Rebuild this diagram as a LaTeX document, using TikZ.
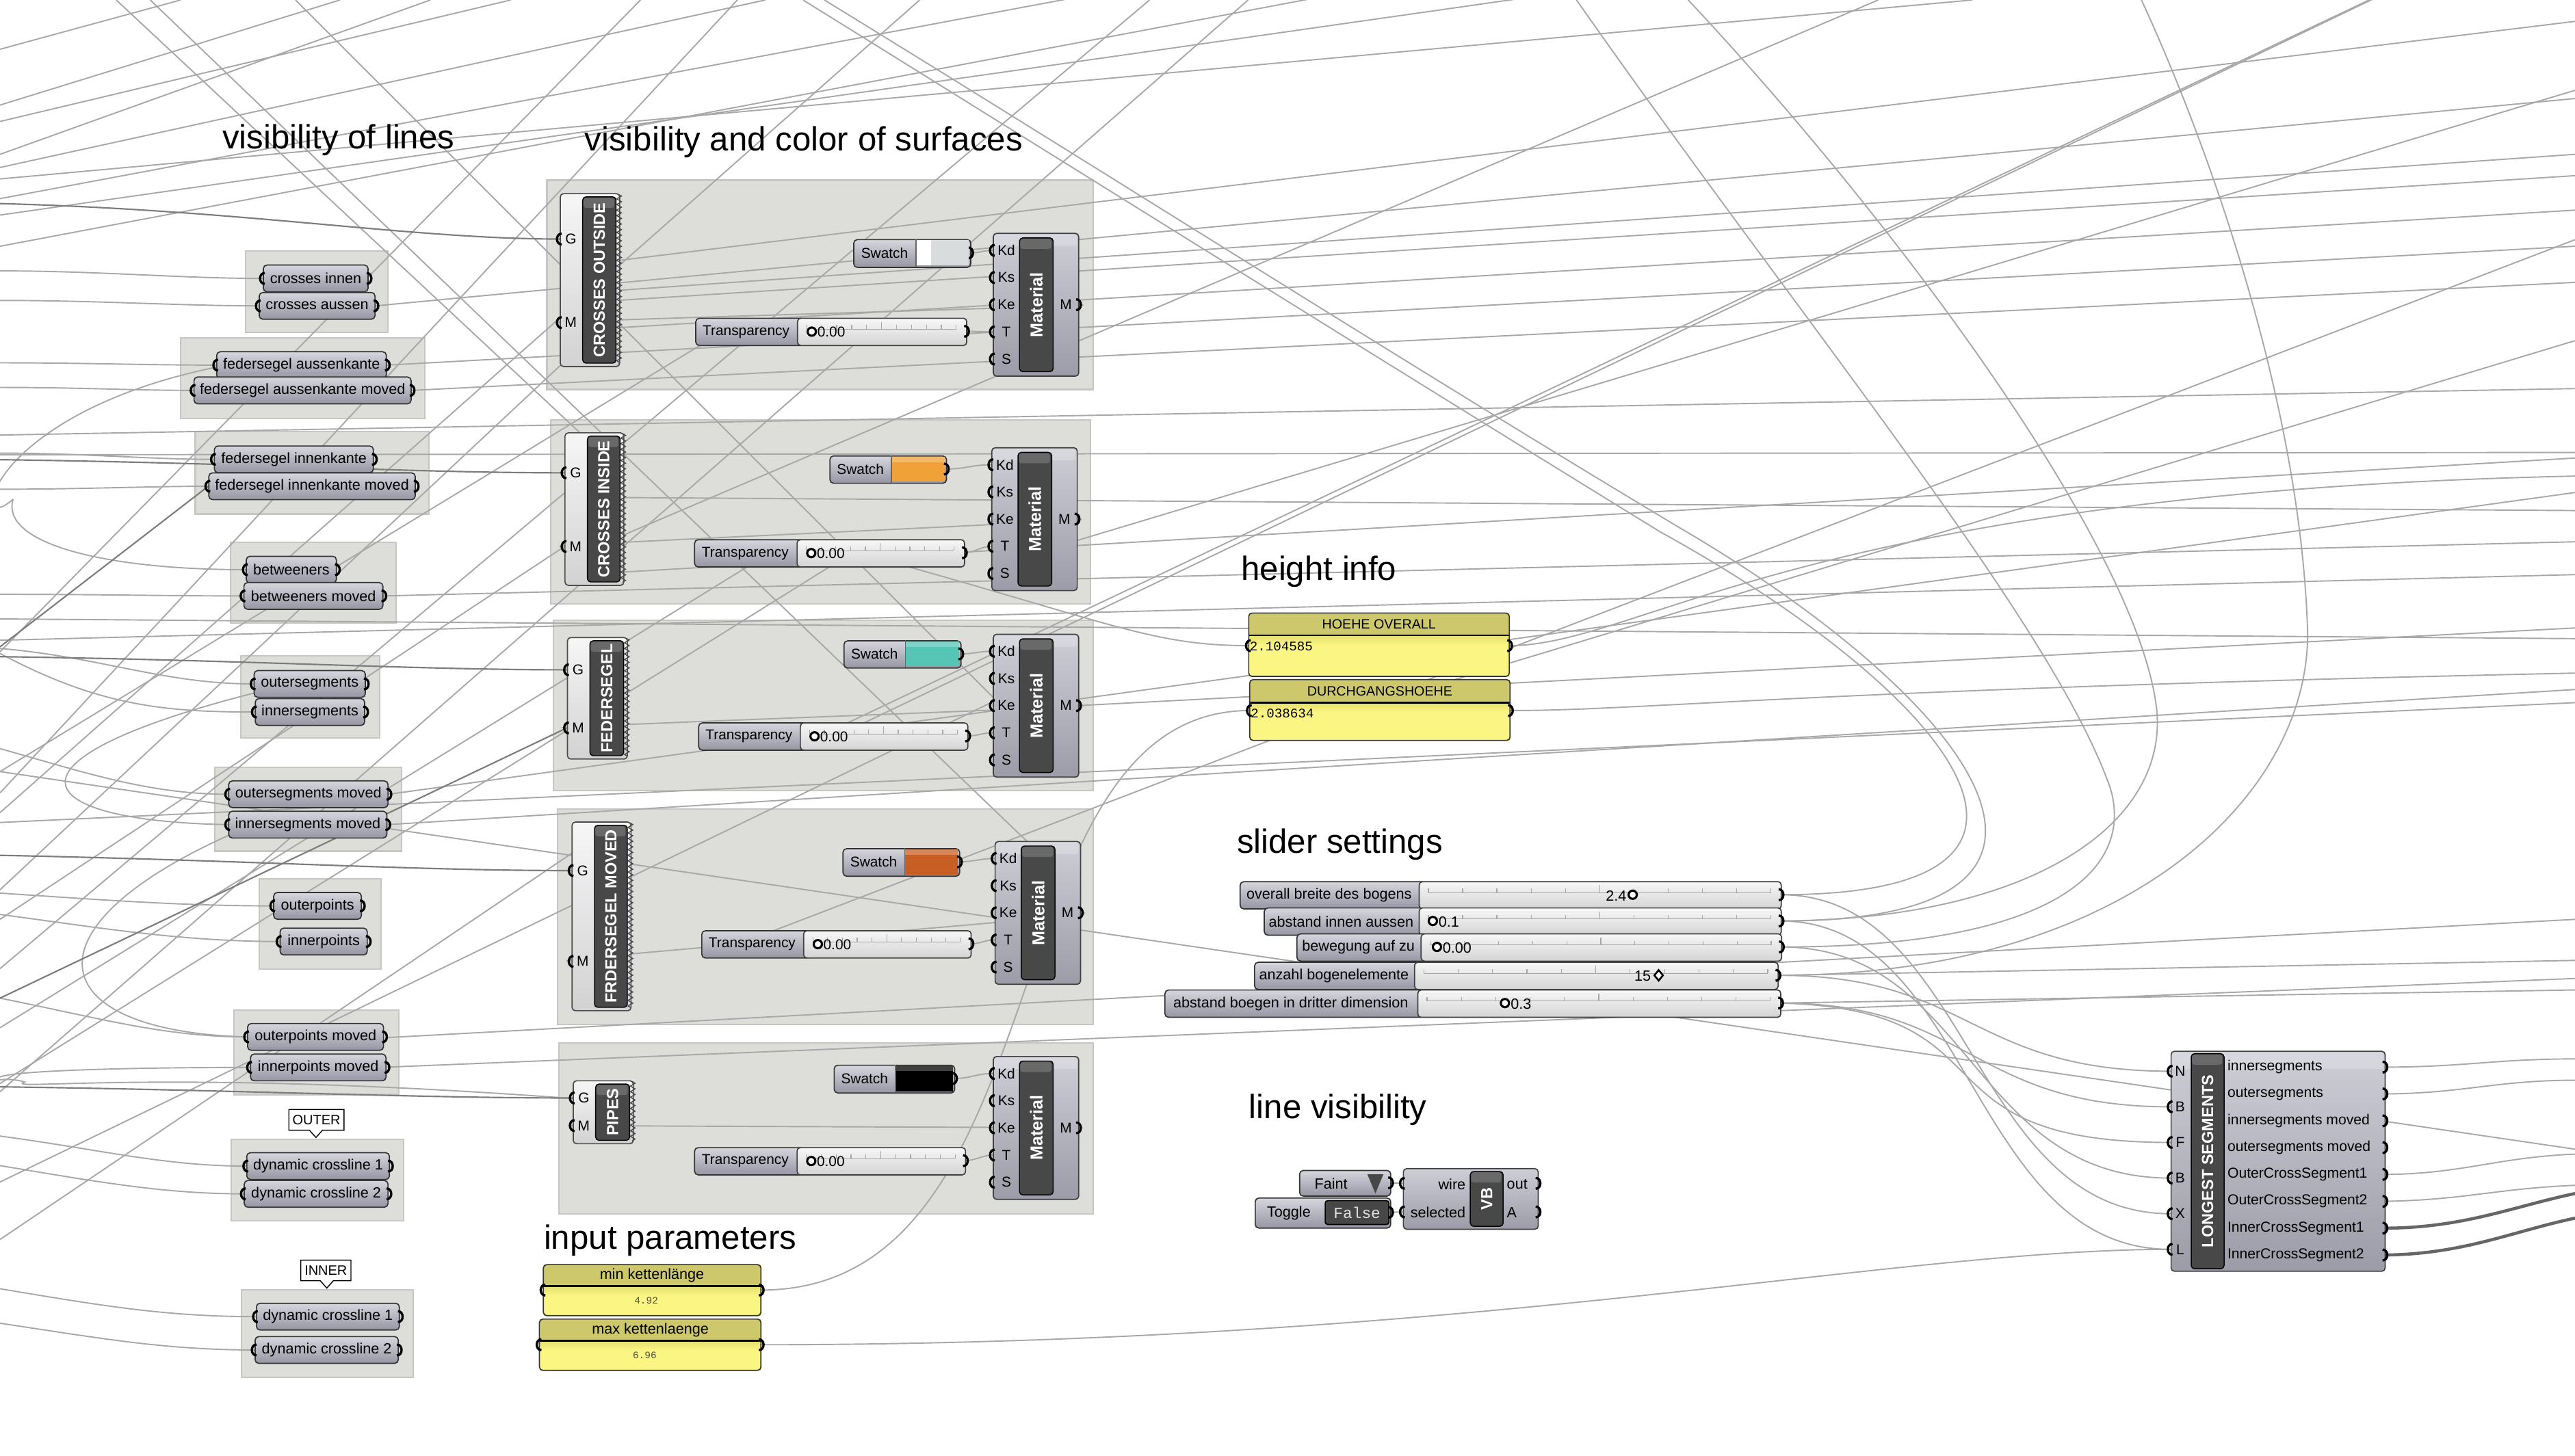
\documentclass[tikz,border=0pt]{standalone}
\usepackage{fontspec}
\setmainfont{Liberation Sans}
\newfontfamily\monof{Liberation Mono}
\usetikzlibrary{decorations.pathmorphing}

\definecolor{grpfill}{RGB}{221,221,217}
\definecolor{grpdraw}{RGB}{198,198,194}
\definecolor{ptop}{RGB}{214,214,222}
\definecolor{pbot}{RGB}{150,150,164}
\definecolor{cbT}{RGB}{206,206,215}
\definecolor{cbB}{RGB}{156,156,168}
\definecolor{lbT}{RGB}{246,246,246}
\definecolor{lbB}{RGB}{210,210,210}
\definecolor{sbT}{RGB}{247,247,247}
\definecolor{sbB}{RGB}{212,212,212}
\definecolor{cdark}{RGB}{72,72,72}
\definecolor{phead}{RGB}{205,200,108}
\definecolor{pbody}{RGB}{251,246,131}
\definecolor{pshade}{RGB}{228,222,112}
\definecolor{wirec}{RGB}{168,168,168}
\definecolor{wired}{RGB}{125,125,125}
\definecolor{swOrange}{RGB}{240,162,56}
\definecolor{swTeal}{RGB}{85,198,181}
\definecolor{swRust}{RGB}{200,94,36}
\definecolor{swLight}{RGB}{216,220,220}

\pgfdeclarelayer{back}
\pgfdeclarelayer{grps}
\pgfdeclarelayer{wires}
\pgfsetlayers{back,grps,wires,main}

\tikzset{
  grp/.style={fill=grpfill, draw=grpdraw, line width=0.9pt, inner sep=0pt, anchor=north west},
  param/.style={draw=black!80, line width=0.7pt, rounded corners=2.2pt, top color=ptop, bottom color=pbot, minimum height=16.3pt, inner sep=0pt, anchor=west, font=\fontsize{9}{10}\selectfont},
  port/.style={line width=1.4pt, black},
  w/.style={draw=wirec, line width=0.8pt},
  wd/.style={draw=wired, line width=0.9pt},
  wt/.style={draw=black!60, line width=1.9pt},
  ttl/.style={font=\fontsize{20.5}{22}\selectfont, anchor=base west, inner sep=0pt},
  lbl/.style={font=\fontsize{9}{10}\selectfont, inner sep=0pt},
  slbl/.style={font=\fontsize{8.7}{10}\selectfont, inner sep=0pt},
  cbody/.style={draw=black!75, line width=0.7pt, rounded corners=2pt, top color=cbT, bottom color=cbB, inner sep=0pt, anchor=north west},
  lbody/.style={draw=black!70, line width=0.7pt, rounded corners=2pt, top color=lbT, bottom color=lbB, inner sep=0pt, anchor=north west},
  sbody/.style={draw=black!75, line width=0.7pt, rounded corners=2pt, top color=sbT, bottom color=sbB, inner sep=0pt, anchor=north west},
  cbar/.style={draw=black, line width=0.6pt, rounded corners=2pt, fill=cdark, inner sep=0pt, anchor=north west},
  bartext/.style={rotate=90, text=white, font=\bfseries\fontsize{9.8}{10}\selectfont, inner sep=0pt},
  zz/.style={draw=black!70, line width=0.6pt, decorate, decoration={zigzag, segment length=3.4pt, amplitude=1.4pt}},
  trk/.style={draw=black!35, line width=0.5pt},
  knob/.style={circle, draw=black, line width=1.3pt, fill=white, inner sep=0pt, minimum size=5pt},
  pnl/.style={fill=pbody, inner sep=0pt, anchor=north west},
  bubble/.style={fill=white, draw=black, line width=0.6pt},
}

\newcommand\lport[1]{\draw[port] ([xshift=1.2pt,yshift=3.3pt]#1) .. controls ([xshift=-2.6pt,yshift=3.3pt]#1) and ([xshift=-2.6pt,yshift=-3.3pt]#1) .. ([xshift=1.2pt,yshift=-3.3pt]#1);}
\newcommand\rport[1]{\draw[port] ([xshift=-1.2pt,yshift=3.3pt]#1) .. controls ([xshift=2.6pt,yshift=3.3pt]#1) and ([xshift=2.6pt,yshift=-3.3pt]#1) .. ([xshift=-1.2pt,yshift=-3.3pt]#1);}

% parameter capsule: name, x1, x2, yc, text
\newcommand\prm[5]{%
  \node[param, minimum width={#3-#2}] (#1) at (#2,#4) {#5};
  \lport{#1.west}\rport{#1.east}}

% group box: name, x1, y1, x2, y2
\newcommand\grp[5]{\begin{pgfonlayer}{grps}\node[grp, minimum width={#4-#2}, minimum height={#5-#3}] (#1) at (#2,#3) {};\end{pgfonlayer}}

% dark bar with highlight
\newcommand\darkbar[5]{% name, x, y, w, h
  \node[cbar, minimum width={#4}, minimum height={#5}] (#1) at (#2,#3) {};
  \fill[white, opacity=0.18, rounded corners=1.5pt] ({#2+0.8},{#3+0.8}) rectangle ({#2+#4-0.8},{#3+7});}

% material: name, x, y
\newcommand\material[3]{%
  \node[cbody, minimum width=52pt, minimum height=87pt] (#1) at (#2,#3) {};
  \fill[white, opacity=0.22, rounded corners=1.5pt] ({#2+0.8},{#3+0.8}) rectangle ({#2+51.2},{#3+8});
  \darkbar{#1bar}{#2+16}{#3+2.8}{20.5}{81.5}
  \node[bartext, font=\bfseries\fontsize{10.5}{11}\selectfont] at (#1bar.center) {Material};
  \foreach \lab [count=\i from 0] in {Kd,Ks,Ke,T,S}{
    \coordinate (#1p\i) at (#2,{#3+10.7+16.55*\i});
    \node[slbl] at ({#2+8.3},{#3+10.7+16.55*\i}) {\lab};
    \lport{#1p\i}}
  \coordinate (#1M) at ({#2+52},{#3+43.8});
  \node[slbl] at ({#2+44.5},{#3+43.8}) {M};
  \rport{#1M}}

% custom preview: name, x1, x2, y1, y2, gy, my, title
\newcommand\cprev[8]{%
  \node[lbody, minimum width={#3-#2-1.5}, minimum height={#5-#4}] (#1) at (#2,#4) {};
  \draw[zz] ({#3-1.5},{#4+1}) -- ({#3-1.5},{#5-1});
  \darkbar{#1bar}{#2+13.7}{#4+2}{#3-#2-17.4}{#5-#4-4}
  \node[bartext] at (#1bar.center) {#8};
  \coordinate (#1G) at (#2,#6);
  \coordinate (#1M) at (#2,#7);
  \node[slbl] at ({#2+6.8},#6) {G};
  \node[slbl] at ({#2+6.8},#7) {M};
  \lport{#1G}\lport{#1M}}

% swatch: name, x1, xc, x2, y1, y2, color
\newcommand\swatch[7]{%
  \node[param, anchor=north west, minimum width={#4-#2}, minimum height={#6-#5}] (#1) at (#2,#5) {};
  \fill[#7] (#3,{#5+0.7}) rectangle ({#4-0.8},{#6-0.7});
  \fill[white, opacity=0.25] (#3,{#5+0.7}) rectangle ({#4-0.8},{#5+4});
  \draw[black!60, line width=0.5pt] (#3,#5) -- (#3,#6);
  \node[slbl] at ({(#2+#3)/2},{(#5+#6)/2}) {Swatch};
  \coordinate (#1o) at (#4,{(#5+#6)/2});
  \rport{#1o}}

% slider: name, x1, xl, x2, ymid, label
\newcommand\slider[6]{%
  \node[param, anchor=north west, minimum width={#3-#2+4}, minimum height=16.6pt] (#1lab) at (#2,{#5-8.3}) {};
  \node[sbody, minimum width={#4-#3}, minimum height=16.6pt] (#1) at (#3,{#5-8.3}) {};
  \node[lbl] at ({(#2+#3)/2},{#5+0.3}) {#6};
  \draw[trk] ({#3+6},{#5-1.2}) -- ({#4-6},{#5-1.2});
  \foreach \k in {0,...,10}{\draw[trk] ({#3+6+\k*(#4-#3-12)/10},{#5-1.2}) -- ++(0,-2.6);}
  \draw[trk] ({#3+6+5*(#4-#3-12)/10},{#5-1.2}) -- ++(0,-4.6);
  \coordinate (#1o) at (#4,#5);
  \rport{#1o}}

% panel: name, x1, x2, y1, yh, y2, title, port y
\newcommand\panel[8]{%
  \node[pnl, minimum width={#3-#2}, minimum height={#6-#4}] (#1) at (#2,#4) {};
  \fill[phead] ({#2+0.4},{#4+0.4}) rectangle ({#3-0.4},#5);
  \shade[top color=pshade, bottom color=pbody] ({#2+0.4},#5) rectangle ({#3-0.4},{#5+6});
  \draw[black, line width=1.1pt] (#2,#5) -- (#3,#5);
  \draw[black!80, line width=0.7pt, rounded corners=2pt] (#2,#4) rectangle (#3,#6);
  \coordinate (#1i) at (#2,#8);
  \coordinate (#1o) at (#3,#8);
  \lport{#1i}\rport{#1o}}

\begin{document}
\begin{tikzpicture}[x=1pt,y=-1pt]
\useasboundingbox (0,0) rectangle (1568,886.5);
\begin{pgfonlayer}{back}
\fill[white] (0,0) rectangle (1568,886.5);
\end{pgfonlayer}

% ---------------- titles
\node[ttl] (t1) at (135.3,90.4) {visibility of lines};
\node[ttl] (t2) at (355.9,92) {visibility and color of surfaces};
\node[ttl] (t3) at (755.6,353.4) {height info};
\node[ttl] (t4) at (753,519.5) {slider settings};
\node[ttl] (t5) at (760.4,681.5) {line visibility};
\node[ttl] (t6) at (331,761) {input parameters};

% ---------------- left groups and parameters
\grp{g1}{149.2}{152.3}{235.9}{202}
\prm{pci}{160}{223.8}{169.6}{crosses innen}
\prm{pca}{157.5}{228}{186.3}{crosses aussen}
\grp{g2}{109.5}{205.2}{258.4}{254.6}
\prm{pfa}{131.6}{234.9}{222.4}{federsegel aussenkante}
\prm{pfam}{117.8}{250}{237.8}{federsegel aussenkante moved}
\grp{g3}{118.5}{262.5}{260.8}{312.6}
\prm{pfi}{130.2}{227}{279.8}{federsegel innenkante}
\prm{pfim}{126.8}{252.5}{296.2}{federsegel innenkante moved}
\grp{g4}{139.9}{329.9}{240.7}{378.9}
\prm{pbt}{149.6}{204.5}{347}{betweeners}
\prm{pbm}{148.2}{232.8}{363}{betweeners moved}
\grp{g5}{146.1}{399}{230.7}{449}
\prm{pos}{154.4}{222.1}{416.6}{outersegments}
\prm{pis}{155.1}{221.7}{433.7}{innersegments}
\grp{g6}{130.2}{467}{244.2}{518}
\prm{posm}{138.9}{235.9}{483.8}{outersegments moved}
\prm{pism}{138.9}{235.2}{502.3}{innersegments moved}
\grp{g7}{157.6}{535}{231.7}{589.8}
\prm{pop}{166.3}{219.7}{551.8}{outerpoints}
\prm{pip}{170.2}{223.3}{573.5}{innerpoints}
\grp{g8}{142}{615}{242.5}{666.3}
\prm{popm}{150.4}{233.2}{631.6}{outerpoints moved}
\prm{pipm}{152.2}{234.7}{650.2}{innerpoints moved}
\grp{g9}{140.3}{693.5}{245.2}{743.3}
\prm{pod1}{149.9}{236.8}{710.3}{dynamic crossline 1}
\prm{pod2}{148.4}{235.9}{727.2}{dynamic crossline 2}
\grp{g10}{146.6}{785.2}{251.1}{838.6}
\prm{pid1}{155.8}{242.8}{802}{dynamic crossline 1}
\prm{pid2}{155}{242.2}{822.3}{dynamic crossline 2}

% bubbles
\draw[bubble] (175.9,675.8) -- (209.5,675.8) -- (209.5,688.4) -- (196.4,688.4) -- (192.4,692.9) -- (188.4,688.4) -- (175.9,688.4) -- cycle;
\node[font=\fontsize{8.3}{9}\selectfont, inner sep=0pt] (bo) at (192.7,682.2) {OUTER};
\draw[bubble] (183.1,767.6) -- (213.7,767.6) -- (213.7,780.1) -- (203,780.1) -- (199,784.6) -- (195,780.1) -- (183.1,780.1) -- cycle;
\node[font=\fontsize{8.3}{9}\selectfont, inner sep=0pt] (bi) at (198.4,774) {INNER};

% ---------------- surface groups
\grp{gA}{332.6}{109.3}{665.3}{236.8}
\grp{gB}{334.8}{255.3}{663.6}{367.5}
\grp{gC}{336.6}{377.4}{665.3}{481}
\grp{gD}{339}{492.3}{665.3}{623.6}
\grp{gE}{340}{634.7}{665.3}{738.8}

\cprev{cA}{340.8}{378.5}{117.6}{222.9}{145.6}{196.5}{CROSSES OUTSIDE}
\cprev{cB}{343.7}{381}{263.3}{356.2}{288}{332.9}{CROSSES INSIDE}
\cprev{cC}{345.2}{383.2}{388}{462}{408}{443.4}{FEDERSEGEL}
\cprev{cD}{348}{385.4}{500.4}{615.3}{530.3}{585.6}{FRDERSEGEL MOVED}
\cprev{cE}{348.7}{386.8}{658}{696.3}{668.8}{685.6}{PIPES}

\swatch{swA}{519.5}{557.8}{590.8}{145.6}{162.5}{white}
\fill[swLight] (567,146.3) rectangle (590,161.8);
\swatch{swB}{505}{542.8}{576}{277.4}{294}{swOrange}
\swatch{swC}{513.6}{551.4}{584.8}{390}{406.6}{swTeal}
\swatch{swD}{513}{551}{584}{516.6}{533.4}{swRust}
\swatch{swE}{507.6}{545.3}{581}{648.5}{665.4}{black}

\newcommand\tslider[5]{% name x1 xl x2 ymid
  \slider{#1}{#2}{#3}{#4}{#5}{\fontsize{8.7}{10}\selectfont Transparency}
  \node[knob] (#1k) at ({#3+9},{#5+0.2}) {};
  \node[slbl, anchor=west] at ({#3+12.2},{#5+0.4}) {0.00};}
\tslider{trA}{423.3}{485.3}{588.3}{201.8}
\tslider{trB}{422.6}{485}{587}{336.7}
\tslider{trC}{425.1}{487}{589}{448.3}
\tslider{trD}{427}{489}{591}{574.9}
\tslider{trE}{422.6}{485}{587.6}{707}

\material{mA}{604.5}{141.8}
\material{mB}{603.6}{272.4}
\material{mC}{604.5}{386}
\material{mD}{605.6}{512.2}
\material{mE}{604.5}{643.2}

% ---------------- height info panels
\panel{ho}{760.4}{919}{373.4}{387}{412}{HOEHE OVERALL}{393.3}
\node[font=\fontsize{8.2}{9}\selectfont, inner sep=0pt] (hot) at (839.7,380.2) {HOEHE OVERALL};
\node[font=\monof\fontsize{8}{9}\selectfont, inner sep=0pt, anchor=west] (hov) at (760.8,393.9) {2.104585};
\panel{du}{761}{919.5}{414}{428}{451}{DURCHGANGSHOEHE}{432.8}
\node[font=\fontsize{8.2}{9}\selectfont, inner sep=0pt] (dut) at (840.2,421) {DURCHGANGSHOEHE};
\node[font=\monof\fontsize{8}{9}\selectfont, inner sep=0pt, anchor=west] (duv) at (761.4,434.7) {2.038634};

% ---------------- input parameter panels
\panel{mink}{330.9}{463.3}{770.3}{783.4}{801.4}{min}{785.8}
\node[font=\fontsize{9}{10}\selectfont, inner sep=0pt] (minkt) at (397,776.9) {min kettenlänge};
\node[font=\monof\fontsize{6}{7}\selectfont, text=black!70, inner sep=0pt] (minkv) at (393.5,792.1) {4.92};
\panel{maxk}{328.5}{463.3}{803.5}{816.7}{834.7}{max}{819.1}
\node[font=\fontsize{9}{10}\selectfont, inner sep=0pt] (maxkt) at (396,810.1) {max kettenlaenge};
\node[font=\monof\fontsize{6}{7}\selectfont, text=black!70, inner sep=0pt] (maxkv) at (392.6,825.7) {6.96};

% ---------------- sliders
\slider{s1}{754.8}{863.8}{1084.3}{545}{overall breite des bogens}
\node[knob] (s1k) at (994.2,545) {};
\node[lbl, anchor=east] at (990.6,545.6) {2.4};
\slider{s2}{769.5}{863.8}{1084.3}{561}{abstand innen aussen}
\node[knob] (s2k) at (872.5,561) {};
\node[lbl, anchor=west] at (875.8,561.6) {0.1};
\slider{s3}{789.4}{865}{1084.5}{576.8}{bewegung auf zu}
\node[knob] (s3k) at (875,576.8) {};
\node[lbl, anchor=west] at (878.3,577.4) {0.00};
\slider{s4}{763.6}{861}{1082.4}{594.1}{anzahl bogenelemente}
\draw[line width=1.1pt, fill=white] (1010,590.9) -- (1012.6,594.1) -- (1010,597.3) -- (1007.4,594.1) -- cycle;
\node[lbl, anchor=east] (s4v) at (1005.5,594.7) {15};
\slider{s5}{709}{863}{1084}{611}{abstand boegen in dritter dimension}
\node[knob] (s5k) at (916.4,611) {};
\node[lbl, anchor=west] at (919.7,611.6) {0.3};

% ---------------- line visibility
\node[param, anchor=north west, minimum width=55.5pt, minimum height=15.6pt] (faint) at (791,712.6) {};
\node[lbl] at (810.5,720.8) {Faint};
\fill[black!72] (832.6,715.2) -- (842.4,715.2) -- (837.5,727) -- cycle;
\coordinate (fainto) at (846.5,720.5);
\rport{fainto}
\node[param, anchor=north west, minimum width=82.5pt, minimum height=18.3pt] (tog) at (764,729.4) {};
\node[lbl] at (784.8,738.8) {Toggle};
\node[draw=black, line width=0.7pt, fill=black!72, rounded corners=1.5pt, anchor=north west, minimum width=38.8pt, minimum height=14.5pt, inner sep=0pt] (togb) at (806.6,731) {};
\node[font=\monof\fontsize{9.5}{10}\selectfont, text=black!12, inner sep=0pt] at (togb.center) {False};
\coordinate (togo) at (846.5,738.5);
\rport{togo}
\node[cbody, minimum width=82.1pt, minimum height=36.9pt] (vb) at (854.2,711.5) {};
\darkbar{vbbar}{895}{713.3}{20}{33.4}
\node[bartext] at (vbbar.center) {VB};
\node[lbl, anchor=east] at (892.6,721.2) {wire};
\node[lbl, anchor=east] at (892.6,738.6) {selected};
\node[lbl, anchor=west] at (917.4,721.2) {out};
\node[lbl, anchor=west] at (917.4,738.6) {A};
\coordinate (vbi1) at (854.2,720.8);
\coordinate (vbi2) at (854.2,738.2);
\coordinate (vbo1) at (936.3,720.8);
\coordinate (vbo2) at (936.3,738.2);
\lport{vbi1}\lport{vbi2}\rport{vbo1}\rport{vbo2}

% ---------------- LONGEST SEGMENTS
\node[cbody, minimum width=130.3pt, minimum height=134pt] (ls) at (1321.7,640) {};
\fill[white, opacity=0.22, rounded corners=1.5pt] (1322.5,640.8) rectangle (1451.2,651);
\darkbar{lsbar}{1334}{641.5}{20}{131}
\node[bartext] at (lsbar.center) {LONGEST SEGMENTS};
\foreach \lab [count=\i from 0] in {N,B,F,B,X,L}{
  \coordinate (lsi\i) at (1321.7,{652.5+21.7*\i});
  \node[slbl] at (1327.6,{652.5+21.7*\i}) {\lab};
  \lport{lsi\i}}
\foreach \lab [count=\i from 0] in {innersegments,outersegments,innersegments moved,outersegments moved,OuterCrossSegment1,OuterCrossSegment2,InnerCrossSegment1,InnerCrossSegment2}{
  \coordinate (lso\i) at (1452,{650+16.35*\i});
  \node[font=\fontsize{8.8}{10}\selectfont, inner sep=0pt, anchor=west] at (1356.2,{650+16.35*\i}) {\lab};
  \rport{lso\i}}

% ---------------- wires
\begin{pgfonlayer}{wires}
\begin{scope}
\clip (0,0) rectangle (1568,886.5);
% top-left fan
\draw[w] (0,30) -- (110,0);
\draw[w] (0,64) -- (207,0);
\draw[w] (0,74) -- (311,0);
\draw[w] (0,102) -- (466,0);
\draw[w] (0,121) -- (700,-10);
\draw[w] (0,131) -- (1200,-40);
\draw[w] (0,94) -- (262,0);
\draw[w] (0,150) -- (900,-20);
\draw[w] (70.8,0) -- (360,270);
\draw[w] (91.5,0) -- (654,540);
\draw[w] (180,0) -- (615,435);
\draw[w] (390,0) -- (0,397);
\draw[w] (449,0) -- (0,483);
\draw[w] (560,0) -- (0,495);
\draw[w] (700,0) -- (0,590);
\draw[w] (760,0) -- (0,665);
% long gently sloped lines
\draw[w] (0,109) -- (1201,0);
\draw[w] (360,160.7) -- (1568,13);
\draw[w] (360,178) -- (1568,94);
\draw[w] (360,184) -- (1568,107);
\draw[w] (370,200) -- (1568,128);
\draw[w] (0,265) -- (1568,236.7);
\draw[w] (0,277) -- (1568,275.6);
\draw[w] (370,303) -- (1568,311);
\draw[w] (370,349) -- (1568,279);
\draw[w] (0,390) -- (1568,350);
\draw[w] (0,377) -- (1568,389);
\draw[w] (mCM) -- (1568,382.5);
\draw[w] (0,501) -- (1568,428);
\draw[w] (236,632) -- (1568,560);
\draw[w] (236,650) -- (1568,596);
\draw[w] (0,470) -- (1568,700);
% diagonals up-right
\draw[w] (370,330) -- (1143.7,0);
\draw[w] (500,448) -- (1442.6,0);
\draw[w] (506,450) -- (1450,-3);
\draw[w] (620,340) -- (1568,55);
\draw[w] (450,575) -- (1568,146);
\draw[w] (800,440) -- (1568,207.5);
\draw[w] (0,542) -- (360,205);
\draw[w] (0,626) -- (470,336);
\draw[w] (0,660) -- (520,336);
\draw[w] (0,755) -- (370,505);
\draw[w] (0,560) -- (cBM);
\draw[w] (0,470) -- (440,202);
\draw[w] (0,720) -- (620,420);
% slider output loops going back up-left
\draw[w] (s1o) .. controls (1290,545) and (1185,420) .. (1011,324) .. controls (850,225) and (650,100) .. (489,0);
\draw[w] (s2o) .. controls (1305,561) and (1200,425) .. (1022,321) .. controls (860,224) and (665,100) .. (502,0);
\draw[w] (s2o) .. controls (1240,560) and (1322,500) .. (1313,430) .. controls (1300,330) and (1150,130) .. (1028,0);
\draw[w] (s3o) .. controls (1250,577) and (1300,530) .. (1285,480) .. controls (1250,380) and (1100,200) .. (960,0);
\draw[w] (s4o) .. controls (1300,594) and (1410,480) .. (1405,380) .. controls (1400,250) and (1350,100) .. (1304,0);
\draw[w] (s4o) -- (1568,585);
\draw[w] (s5o) -- (1568,603);
% slider to LONGEST SEGMENTS
\draw[w] (s4o) .. controls (1200,594) and (1200,652.5) .. (lsi0);
\draw[w] (s5o) .. controls (1200,611) and (1200,674.2) .. (lsi1);
\draw[w] (s5o) .. controls (1230,615) and (1160,695.9) .. (lsi2);
\draw[w] (s3o) .. controls (1200,577) and (1200,717.6) .. (lsi3);
\draw[w] (s1o) .. controls (1200,545) and (1200,739.3) .. (lsi4);
\draw[w] (s2o) .. controls (1200,561) and (1200,761) .. (lsi5);
\draw[w] (maxko) .. controls (900,819) and (1150,761) .. (lsi5);
\draw[w] (minko) .. controls (650,786) and (600,433) .. (dui);
\draw[w] (520,336) .. controls (680,380) and (700,393) .. (hoi);
\draw[w] (hoo) .. controls (1000,393) and (1100,300) .. (1568,290);
\draw[w] (duo) .. controls (1000,433) and (1100,420) .. (1568,410);
% LONGEST SEGMENTS outputs
\draw[w] (lso0) .. controls (1500,650) and (1520,645) .. (1568,645);
\draw[w] (lso1) .. controls (1500,666) and (1520,658) .. (1568,658);
\draw[w] (lso4) .. controls (1500,715) and (1520,705) .. (1568,703);
\draw[w] (lso5) .. controls (1500,731) and (1520,724) .. (1568,722);
\draw[wt] (lso6) .. controls (1500,748) and (1530,735) .. (1568,727);
\draw[wt] (lso7) .. controls (1500,764) and (1530,750) .. (1568,742);
% VB inputs
\draw[w] (fainto) -- (vbi1);
\draw[w] (togo) -- (vbi2);
% left edge to params
\draw[w] (0,165) .. controls (60,165) and (110,169.6) .. (pci.west);
\draw[w] (0,183) .. controls (60,183) and (110,186.3) .. (pca.west);
\draw[w] (0,221) .. controls (50,221) and (90,222.4) .. (pfa.west);
\draw[w] (0,236) .. controls (50,236) and (80,237.8) .. (pfam.west);
\draw[w] (0,276) .. controls (50,276) and (90,279.8) .. (pfi.west);
\draw[w] (0,298) .. controls (50,298) and (90,296.2) .. (pfim.west);
\draw[w] (8,304) .. controls (0,330) and (60,347) .. (pbt.west);
\draw[w] (140,222) .. controls (-10,250) and (-20,330) .. (8,304);
\draw[w] (0,362) .. controls (60,362) and (100,363) .. (pbm.west);
\draw[w] (0,395) .. controls (60,400) and (100,416.6) .. (pos.west);
\draw[w] (0,398) .. controls (60,430) and (100,433.7) .. (pis.west);
\draw[w] (0,456) .. controls (50,470) and (90,483.8) .. (posm.west);
\draw[w] (180,416) .. controls (-10,460) and (10,500) .. (pism.west);
\draw[w] (0,544) .. controls (60,548) and (110,551.8) .. (pop.west);
\draw[w] (0,557) .. controls (60,565) and (110,573.5) .. (pip.west);
\draw[w] (160,500) .. controls (10,560) and (20,628) .. (popm.west);
\draw[w] (0,608) .. controls (60,620) and (100,631.6) .. (popm.west);
\draw[w] (0,656) .. controls (10,652) and (80,650.2) .. (pipm.west);
\draw[w] (360,670) .. controls (100,650) and (0,665) .. (15,659) .. controls (0,655) and (-10,660) .. (0,662);
\draw[w] (0,692) .. controls (60,700) and (100,710.3) .. (pod1.west);
\draw[w] (0,710) .. controls (60,720) and (100,727.2) .. (pod2.west);
\draw[w] (0,785) .. controls (60,795) and (100,802) .. (pid1.west);
\draw[w] (0,806) .. controls (60,815) and (100,822.3) .. (pid2.west);
% param outputs
\draw[w] (pca.east) -- (1568,60);
\draw[w] (pfa.east) -- (1568,150);
\draw[w] (pfam.east) -- (1568,172);
\draw[w] (pbm.east) -- (1568,330);
\draw[w] (posm.east) -- (1568,300);
\draw[w] (pism.east) -- (1568,420);
% G inputs
\draw[wd] (0,124) .. controls (150,128) and (250,145.6) .. (cAG);
\draw[wd] (0,280) .. controls (150,282) and (250,288) .. (cBG);
\draw[wd] (0,400) .. controls (150,402) and (250,408) .. (cCG);
\draw[wd] (0,521) .. controls (150,524) and (250,530.3) .. (cDG);
\draw[wd] (0,662) .. controls (150,664) and (250,668.8) .. (cEG);
\draw[wd] (cCM) -- (0,608);
\draw[wd] (pfim.west) -- (0,394);
% M loops
\draw[w] (mAM) .. controls +(40,0) and +(-40,0) .. (cAM);
\draw[w] (mBM) .. controls +(40,0) and +(-40,0) .. (cBM);
\draw[w] (mCM) .. controls +(40,0) and +(-40,0) .. (cCM);
\draw[w] (mDM) .. controls +(40,0) and +(-40,0) .. (cDM);
\draw[w] (mEM) .. controls +(40,0) and +(-40,0) .. (cEM);
% swatch / transparency to material
\draw[w] (swAo) .. controls +(6,0) and +(-6,0) .. (mAp0);
\draw[w] (swBo) .. controls +(12,0) and +(-12,0) .. (mBp0);
\draw[w] (swCo) .. controls +(8,0) and +(-8,0) .. (mCp0);
\draw[w] (swDo) .. controls +(8,0) and +(-8,0) .. (mDp0);
\draw[w] (swEo) .. controls +(10,0) and +(-10,0) .. (mEp0);
\draw[w] (trAo) .. controls +(6,0) and +(-6,0) .. (mAp3);
\draw[w] (trBo) .. controls +(6,0) and +(-6,0) .. (mBp3);
\draw[w] (trCo) .. controls +(6,0) and +(-6,0) .. (mCp3);
\draw[w] (trDo) .. controls +(6,0) and +(-6,0) .. (mDp3);
\draw[w] (trEo) .. controls +(6,0) and +(-6,0) .. (mEp3);
\end{scope}
\end{pgfonlayer}
\end{tikzpicture}
\end{document}
